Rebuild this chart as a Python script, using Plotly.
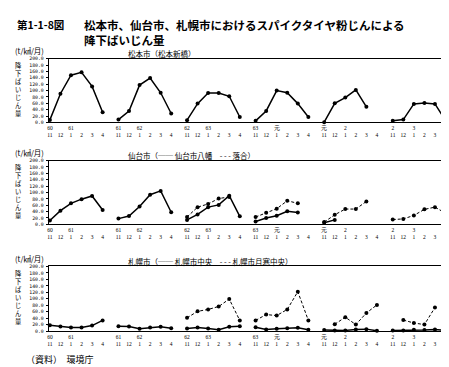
import plotly.graph_objects as go

W, H = 449, 367

# ---------------- data ----------------
months = ["11", "12", "1", "2", "3", "4"]
season_years = [["60", "61"], ["61", "62"], ["62", "63"], ["63", "元"], ["元", "2"], ["2", "3"]]
y_ticks = [0, 20, 40, 60, 80, 100, 120, 140, 160, 180, 200]

# 松本市（松本新橋）
matsumoto_shinbashi = [8, 90, 148, 157, 113, 32,
                       9, 36, 117, 139, 93, 28,
                       7, 59, 92, 92, 82, 17,
                       5, 36, 100, 93, 59, 17,
                       1, 60, 78, 102, 49, None,
                       5, 9, 58, 61, 58, 6]

# 仙台市八幡 (solid)
sendai_yawata = [12, 43, 66, 79, 89, 45,
                 18, 26, 56, 93, 105, 38,
                 14, 31, 54, 61, 90, 25,
                 9, 20, 27, 41, 37, None,
                 5, 14, None, None, None, None,
                 None, None, None, None, None, None]
# 落合 (dashed)
sendai_ochiai = [None, None, None, None, None, None,
                 None, None, None, None, None, None,
                 23, 54, 64, 81, 86, None,
                 23, 36, 49, 74, 66, None,
                 7, 30, 48, 48, 72, None,
                 15, 17, 28, 47, 54, 35]

# 札幌市中央 (solid)
sapporo_chuo = [18, 14, 11, 11, 17, 33,
                15, 14, 7, 11, 13, 9,
                8, 11, 8, 4, 13, 15,
                12, 5, 7, 9, 10, 4,
                3, 2, 2, 5, 6, 1,
                2, 2, 4, 3, 5, 2]
# 札幌市月寒中央 (dashed)
sapporo_tsukisamu = [None, None, None, None, None, None,
                     None, None, None, None, None, None,
                     41, 61, 67, 76, 99, 33,
                     33, 51, 48, 67, 122, 33,
                     None, 21, 43, 20, 56, 81,
                     None, 34, 25, 20, 73, None]

# ---------------- layout helpers ----------------
STEP = 6.5
NM = len(months)
xs = [s * STEP + m for s in range(len(season_years)) for m in range(NM)]
ticktext = []
for s, (y0, y1) in enumerate(season_years):
    for m, mon in enumerate(months):
        if m == 0:
            ticktext.append(f"{y0}<br>{mon}")
        elif m == 2:
            ticktext.append(f"{y1}<br>{mon}")
        else:
            ticktext.append(f" <br>{mon}")


def split_seasons(vals):
    """Insert a gap after each season so seasons are drawn as separate lines."""
    gx, gy = [], []
    for s in range(len(season_years)):
        gx.extend(xs[s * NM:(s + 1) * NM] + [None])
        gy.extend(vals[s * NM:(s + 1) * NM] + [None])
    return gx, gy


def px_x(p):
    return p / W


def px_y(p):
    return 1 - p / H


# plot boxes in pixels: (top, bottom)
boxes = [(49.3, 114.0), (152.7, 217.3), (260.0, 325.5)]
X_LEFT, X_RIGHT = 39, 440
x_range = [-0.1, 37.74]

fig = go.Figure()

mono = "DejaVu Sans Mono"
jp = "Noto Sans CJK JP"


def add_series(vals, idx, dashed):
    gx, gy = split_seasons(vals)
    fig.add_trace(go.Scatter(
        x=gx, y=gy, mode="lines+markers",
        xaxis="x" if idx == 1 else f"x{idx}",
        yaxis="y" if idx == 1 else f"y{idx}",
        line=dict(color="black", width=1.0 if dashed else 1.5,
                  dash="3px,2px" if dashed else "solid"),
        marker=dict(color="black", size=4),
        showlegend=False, connectgaps=False, cliponaxis=False,
    ))


add_series(matsumoto_shinbashi, 1, False)
add_series(sendai_yawata, 2, False)
add_series(sendai_ochiai, 2, True)
add_series(sapporo_chuo, 3, False)
add_series(sapporo_tsukisamu, 3, True)

layout = dict(
    width=W, height=H, autosize=False,
    margin=dict(l=0, r=0, t=0, b=0),
    paper_bgcolor="white", plot_bgcolor="white",
    font=dict(family=jp, color="black"),
)

annotations = []
for i, (top, bot) in enumerate(boxes, start=1):
    xa = "xaxis" if i == 1 else f"xaxis{i}"
    ya = "yaxis" if i == 1 else f"yaxis{i}"
    layout[xa] = dict(
        domain=[px_x(X_LEFT), px_x(X_RIGHT)], range=x_range,
        anchor="y" if i == 1 else f"y{i}",
        tickmode="array", tickvals=xs, ticktext=ticktext,
        tickfont=dict(family="Liberation Serif", size=5.5, color="black"),
        showgrid=False, zeroline=False, showline=True, mirror=True,
        linecolor="black", linewidth=1.3, ticks="", ticklen=0,
    )
    layout[ya] = dict(
        domain=[px_y(bot), px_y(top)], range=[0, 200],
        anchor="x" if i == 1 else f"x{i}",
        tickmode="array", tickvals=y_ticks,
        ticktext=[f"{v:.1f}" for v in y_ticks],
        tickfont=dict(family=mono, size=4.8, color="black"),
        showgrid=False, zeroline=False, showline=True, mirror=True,
        linecolor="black", linewidth=1.3, ticks="outside", ticklen=2,
        tickcolor="black", ticklabelstandoff=1,
    )
    # unit label
    annotations.append(dict(
        text="(t/㎢/月)", x=px_x(3), y=px_y(top - 8), xref="paper", yref="paper",
        xanchor="left", yanchor="middle", showarrow=False,
        font=dict(family=jp, size=7.5, color="black")))
    # vertical y title, one char per line
    label = "降下ばいじん量"
    c0 = top + 7
    for k, ch in enumerate(label):
        annotations.append(dict(
            text=ch, x=px_x(8.5), y=px_y(c0 + k * 8.1), xref="paper", yref="paper",
            xanchor="center", yanchor="middle", showarrow=False, borderpad=0,
            font=dict(family=jp, size=6.3, color="black")))

# panel titles
panel_titles = ["松本市（松本新橋）",
                "仙台市（── 仙台市八幡　- - - 落合）",
                "札幌市（── 札幌市中央　- - - 札幌市月寒中央）"]
for (top, bot), t in zip(boxes, panel_titles):
    annotations.append(dict(
        text=t, x=px_x(117), y=px_y(top - 5), xref="paper", yref="paper",
        xanchor="left", yanchor="middle", showarrow=False,
        font=dict(family=jp, size=7.5, color="black")))

# main title
annotations.append(dict(
    text="<b>第1-1-8図</b>", x=px_x(5), y=px_y(15), xref="paper", yref="paper",
    xanchor="left", yanchor="middle", showarrow=False,
    font=dict(family=jp, size=10.5, color="black")))
annotations.append(dict(
    text="<b>松本市、仙台市、札幌市におけるスパイクタイヤ粉じんによる</b>",
    x=px_x(72), y=px_y(15), xref="paper", yref="paper",
    xanchor="left", yanchor="middle", showarrow=False,
    font=dict(family=jp, size=11.5, color="black")))
annotations.append(dict(
    text="<b>降下ばいじん量</b>",
    x=px_x(72), y=px_y(30), xref="paper", yref="paper",
    xanchor="left", yanchor="middle", showarrow=False,
    font=dict(family=jp, size=11.5, color="black")))

# source
annotations.append(dict(
    text="（資料）　環境庁", x=px_x(14), y=px_y(354), xref="paper", yref="paper",
    xanchor="left", yanchor="middle", showarrow=False,
    font=dict(family=jp, size=9, color="black")))

layout["annotations"] = annotations
fig.update_layout(**layout)

fig.write_html("out.html")
